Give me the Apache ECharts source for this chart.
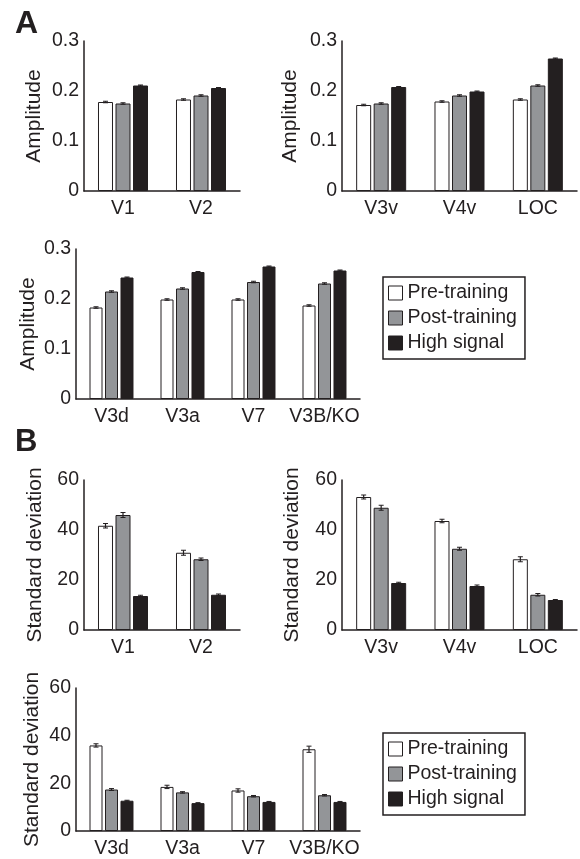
<!DOCTYPE html>
<html><head><meta charset="utf-8">
<script src="https://cdn.jsdelivr.net/npm/echarts@6/dist/echarts.min.js"></script>
<style>html,body{margin:0;padding:0;background:#fff}#c{width:580px;height:859px}</style>
</head><body><div id="c"></div>
<script>
// Regions (categories), in panel order
const regions = ['V1','V2','V3v','V4v','LOC','V3d','V3a','V7','V3B/KO'];
const seriesNames = ['Pre-training','Post-training','High signal'];
const yTicksAmp = [0, 0.1, 0.2, 0.3];
const yTicksSd = [0, 20, 40, 60];

// A: amplitude
const ampPre  = [0.178, 0.183, 0.172, 0.179, 0.183, 0.183, 0.199, 0.199, 0.187];
const ampPost = [0.175, 0.191, 0.175, 0.191, 0.211, 0.215, 0.221, 0.234, 0.231];
const ampHigh = [0.211, 0.206, 0.208, 0.199, 0.265, 0.243, 0.254, 0.265, 0.257];
const ampPreErr  = [0.0015, 0.0015, 0.0015, 0.0015, 0.0015, 0.0015, 0.0015, 0.0015, 0.0015];
const ampPostErr = [0.0015, 0.0015, 0.0015, 0.0015, 0.0015, 0.0015, 0.0015, 0.0015, 0.0015];
const ampHighErr = [0.001, 0.001, 0.001, 0.001, 0.001, 0.001, 0.001, 0.001, 0.001];

// B: standard deviation
const sdPre  = [41.7, 30.9, 53.2, 43.6, 28.3, 35.9, 18.5, 17.0, 34.3];
const sdPost = [46.0, 28.3, 48.9, 32.5, 14.1, 17.4, 16.2, 14.6, 15.0];
const sdHigh = [13.6, 14.1, 18.8, 17.6, 12.0, 12.7, 11.7, 12.2, 12.2];
const sdPreErr  = [0.9, 1.0, 0.8, 0.7, 1.0, 0.7, 0.7, 0.7, 1.3];
const sdPostErr = [1.0, 0.5, 1.0, 0.6, 0.5, 0.4, 0.3, 0.3, 0.3];
const sdHighErr = [0.3, 0.3, 0.3, 0.4, 0.2, 0.2, 0.2, 0.2, 0.2];

const FONT = "'Liberation Sans',Arial,sans-serif";
const INK = '#231f20';
const fills = ['#ffffff', '#939598', '#231f20'];
const gapPx = 2.5;
const LABEL_SIZE = 19.5;
const NAME_SIZE = 21;

const metrics = {
  amp: {vals: [ampPre, ampPost, ampHigh], errs: [ampPreErr, ampPostErr, ampHighErr], ticks: yTicksAmp, name: 'Amplitude'},
  sd:  {vals: [sdPre, sdPost, sdHigh], errs: [sdPreErr, sdPostErr, sdHighErr], ticks: yTicksSd, name: 'Standard deviation'}
};

const panels = [
  {left: 84,  top: 41,  width: 156, from: 0, to: 2, metric: 'amp', bw: 15, nameGap: 39},
  {left: 342, top: 41,  width: 235, from: 2, to: 5, metric: 'amp', bw: 15, nameGap: 41},
  {left: 76,  top: 249, width: 284, from: 5, to: 9, metric: 'amp', bw: 13, nameGap: 37},
  {left: 84,  top: 480, width: 156, from: 0, to: 2, metric: 'sd',  bw: 15, nameGap: 38},
  {left: 342, top: 480, width: 235, from: 2, to: 5, metric: 'sd',  bw: 15, nameGap: 39},
  {left: 76,  top: 688, width: 284, from: 5, to: 9, metric: 'sd',  bw: 13, nameGap: 33}
];

function errRenderer(offset) {
  return function (params, api) {
    const ci = api.value(0), v = api.value(1), e = api.value(2);
    const p = api.coord([ci, v]);
    const hi = api.coord([ci, v + e]);
    const lo = api.coord([ci, v - e]);
    const x = p[0] + offset;
    const cap = 2.5;
    return {type: 'group', children: [
      {type: 'line', shape: {x1: x, y1: hi[1], x2: x, y2: lo[1]}, style: {stroke: INK, lineWidth: 1.2}},
      {type: 'line', shape: {x1: x - cap, y1: hi[1], x2: x + cap, y2: hi[1]}, style: {stroke: INK, lineWidth: 1}},
      {type: 'line', shape: {x1: x - cap, y1: lo[1], x2: x + cap, y2: lo[1]}, style: {stroke: INK, lineWidth: 1}}
    ]};
  };
}

const grids = [], xAxes = [], yAxes = [], series = [];
panels.forEach((pn, gi) => {
  const m = metrics[pn.metric];
  const cats = regions.slice(pn.from, pn.to);
  const ticks = m.ticks;
  grids.push({left: pn.left, top: pn.top, width: pn.width, height: 150});
  xAxes.push({
    type: 'category', gridIndex: gi, data: cats,
    axisLine: {show: true, lineStyle: {color: INK, width: 1.5}},
    axisTick: {show: false},
    axisLabel: {fontSize: LABEL_SIZE, color: INK, fontFamily: FONT, margin: 8, interval: 0}
  });
  yAxes.push({
    type: 'value', gridIndex: gi, min: ticks[0], max: ticks[ticks.length - 1],
    interval: ticks[1] - ticks[0],
    axisLine: {show: true, lineStyle: {color: INK, width: 1.5}},
    axisTick: {show: false}, splitLine: {show: false},
    axisLabel: {fontSize: LABEL_SIZE, color: INK, fontFamily: FONT, margin: 5},
    name: m.name, nameLocation: 'middle', nameGap: pn.nameGap,
    nameTextStyle: {fontSize: NAME_SIZE, color: INK, fontFamily: FONT}
  });
  const barGap = (gapPx / pn.bw * 100).toFixed(1) + '%';
  for (let s = 0; s < 3; s++) {
    series.push({
      type: 'bar', name: seriesNames[s], xAxisIndex: gi, yAxisIndex: gi,
      data: m.vals[s].slice(pn.from, pn.to),
      barWidth: pn.bw, barGap: barGap,
      itemStyle: {color: fills[s], borderColor: INK, borderWidth: 1},
      animation: false
    });
  }
  for (let s = 0; s < 3; s++) {
    const data = cats.map((c, i) => [i, m.vals[s][pn.from + i], m.errs[s][pn.from + i]]);
    series.push({
      type: 'custom', name: 'err' + gi + '_' + s, xAxisIndex: gi, yAxisIndex: gi,
      data: data, encode: {x: 0, y: 1}, z: 5,
      renderItem: errRenderer((s - 1) * (pn.bw + gapPx)),
      animation: false, silent: true
    });
  }
});

function legendAt(top) {
  return {
    orient: 'vertical', left: 383, top: top,
    data: seriesNames, icon: 'rect', itemWidth: 14, itemHeight: 14, itemGap: 3,
    itemStyle: {borderColor: INK, borderWidth: 1},
    textStyle: {fontSize: LABEL_SIZE, lineHeight: 22, color: INK, fontFamily: FONT},
    padding: [5, 8, 5, 5], borderColor: INK, borderWidth: 1.5, itemTextGap: 4,
    selectedMode: false
  };
}

const chart = echarts.init(document.getElementById('c'), null, {renderer: 'canvas'});
chart.setOption({
  animation: false,
  backgroundColor: '#fff',
  grid: grids, xAxis: xAxes, yAxis: yAxes, series: series,
  legend: [legendAt(277), legendAt(733)],
  graphic: [
    {type: 'text', left: 15, top: 8, style: {text: 'A', font: "bold 32px 'Liberation Sans', Arial, sans-serif", fill: INK}},
    {type: 'text', left: 15, top: 427, style: {text: 'B', font: "bold 31px 'Liberation Sans', Arial, sans-serif", fill: INK}}
  ]
});
</script></body></html>
